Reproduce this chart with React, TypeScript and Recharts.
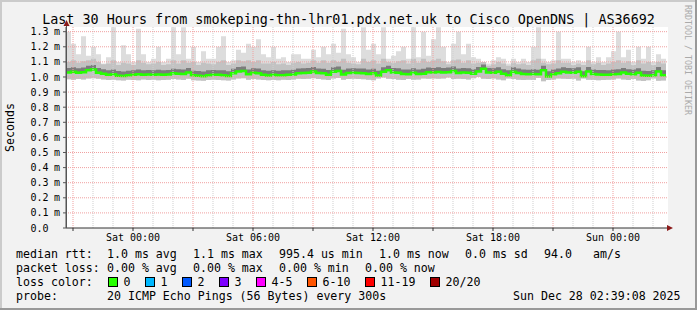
import { ComposedChart, Area, Line, XAxis, YAxis, ReferenceLine } from 'recharts';

// time in hours relative to Sat 00:00, one column every 15 minutes
const START_HOUR = -3.35;
const STEP_HOURS = 0.25;
const END_HOUR = 26.75;

// round-trip times in microseconds, one value per column
const MEDIAN = [
  1030, 1035, 1028, 1032, 1045, 1050, 1028, 1022, 1015, 1018, 1008, 1006, 1012, 1015, 1018, 1014, 1016, 1015, 1017, 1014,
  1016, 1024, 1022, 1020, 1030, 1012, 1008, 1005, 1012, 1015, 1014, 1012, 1006, 1024, 1036, 1040, 1018, 1028, 1025, 1014,
  1010, 1014, 1012, 1012, 1014, 1016, 1025, 1027, 1028, 1036, 1026, 1024, 1015, 1035, 1040, 1016, 1026, 1028, 1026, 1025,
  1020, 1024, 1010, 1034, 1044, 1030, 1028, 1020, 1018, 1028, 1020, 1022, 1032, 1030, 1033, 1030, 1032, 1040, 1026, 1030,
  1028, 1022, 1036, 1055, 1030, 1028, 1034, 1022, 1012, 1034, 1026, 1020, 1018, 1020, 1018, 1044, 1004, 1018, 1025, 1034,
  1030, 1028, 1034, 1005, 1036, 1020, 1016, 1014, 1015, 1018, 1020, 1030, 1022, 1018, 1028, 1010, 1008, 1012, 1036, 1012,
];
const LO = [
  985, 982, 986, 984, 990, 992, 988, 984, 980, 982, 978, 976, 982, 980, 978, 984, 980, 982, 978, 980,
  982, 986, 984, 980, 988, 978, 976, 975, 980, 982, 980, 978, 976, 984, 990, 992, 982, 986, 984, 980,
  978, 980, 978, 982, 980, 984, 988, 986, 988, 992, 986, 984, 980, 990, 994, 982, 986, 988, 986, 985,
  982, 978, 990, 996, 988, 986, 982, 980, 986, 982, 984, 990, 988, 990, 988, 990, 996, 986, 988, 986,
  984, 992, 1000, 988, 986, 990, 984, 978, 990, 986, 982, 980, 982, 980, 994, 972, 980, 984, 990, 988,
  986, 988, 976, 990, 982, 980, 978, 980, 982, 984, 990, 984, 980, 986, 976, 974, 978, 990, 975, 976,
];
const DARK = [
  1060, 1065, 1058, 1062, 1075, 1080, 1060, 1052, 1045, 1050, 1040, 1036, 1042, 1045, 1050, 1044, 1046, 1045, 1048, 1044,
  1046, 1055, 1052, 1050, 1060, 1042, 1040, 1036, 1044, 1046, 1045, 1044, 1038, 1055, 1066, 1070, 1050, 1058, 1056, 1045,
  1042, 1045, 1042, 1044, 1045, 1048, 1056, 1058, 1060, 1066, 1056, 1055, 1046, 1065, 1070, 1048, 1056, 1058, 1056, 1056,
  1050, 1055, 1042, 1064, 1074, 1060, 1058, 1050, 1050, 1058, 1050, 1054, 1062, 1060, 1064, 1060, 1062, 1070, 1056, 1060,
  1058, 1052, 1066, 1082, 1060, 1058, 1064, 1052, 1044, 1064, 1056, 1050, 1048, 1052, 1048, 1074, 1038, 1050, 1056, 1064,
  1060, 1058, 1064, 1038, 1066, 1050, 1046, 1046, 1045, 1050, 1052, 1060, 1052, 1050, 1058, 1042, 1040, 1044, 1066, 1044,
];
const HI = [
  1100, 1110, 1095, 1105, 1110, 1120, 1100, 1085, 1090, 1110, 1080, 1095, 1090, 1080, 1110, 1095, 1085, 1090, 1100, 1080,
  1085, 1110, 1090, 1110, 1095, 1100, 1080, 1095, 1090, 1085, 1100, 1110, 1080, 1090, 1110, 1105, 1110, 1100, 1110, 1090,
  1090, 1100, 1085, 1090, 1080, 1095, 1100, 1090, 1095, 1110, 1095, 1110, 1095, 1110, 1100, 1120, 1095, 1090, 1085, 1120,
  1100, 1110, 1090, 1120, 1100, 1095, 1105, 1110, 1090, 1120, 1095, 1120, 1100, 1110, 1120, 1105, 1085, 1110, 1115, 1095,
  1110, 1090, 1095, 1100, 1075, 1085, 1100, 1090, 1075, 1095, 1085, 1090, 1080, 1110, 1120, 1095, 1085, 1090, 1110, 1095,
  1095, 1080, 1090, 1080, 1110, 1085, 1095, 1080, 1090, 1100, 1110, 1095, 1105, 1080, 1110, 1090, 1100, 1080, 1100, 1090,
];
const MAX = [
  1300, 1220, 1150, 1270, 1140, 1200, 1150, 1090, 1130, 1330, 1100, 1210, 1150, 1100, 1320, 1150, 1100, 1120, 1200, 1100,
  1120, 1330, 1150, 1330, 1120, 1200, 1100, 1170, 1120, 1120, 1200, 1270, 1100, 1110, 1180, 1160, 1220, 1200, 1250, 1150,
  1130, 1200, 1120, 1130, 1100, 1150, 1150, 1120, 1120, 1180, 1130, 1200, 1150, 1220, 1160, 1320, 1150, 1130, 1100, 1330,
  1180, 1220, 1150, 1330, 1120, 1140, 1170, 1200, 1120, 1330, 1130, 1300, 1140, 1250, 1330, 1200, 1100, 1220, 1300, 1150,
  1220, 1130, 1120, 1100, 1090, 1110, 1130, 1120, 1090, 1120, 1100, 1120, 1100, 1200, 1330, 1120, 1100, 1110, 1300, 1120,
  1120, 1100, 1110, 1100, 1200, 1100, 1130, 1100, 1130, 1170, 1300, 1130, 1180, 1100, 1200, 1120, 1200, 1100, 1150, 1120,
];

const Y_TICKS = [0, 0.1, 0.2, 0.3, 0.4, 0.5, 0.6, 0.7, 0.8, 0.9, 1.0, 1.1, 1.2, 1.3];
const X_TICKS = [-3, 0, 3, 6, 9, 12, 15, 18, 21, 24];
const LABEL_HOURS = [0, 6, 12, 18, 24];
const LABELS = ['Sat 00:00', 'Sat 06:00', 'Sat 12:00', 'Sat 18:00', 'Sun 00:00'];
const GRID_HOURS = [-3, -2, -1, 0, 1, 2, 3, 4, 5, 6, 7, 8, 9, 10, 11, 12, 13, 14, 15, 16, 17, 18, 19, 20, 21, 22, 23, 24, 25, 26];

const LOSS_LABELS = ['0', '1', '2', '3', '4-5', '6-10', '11-19', '20/20'];
const LOSS_COLORS = ['#26ff00', '#00b8ff', '#0059ff', '#7e00ff', '#ff00ff', '#ff5500', '#ff0000', '#a10000'];

const TITLE = 'Last 30 Hours from smokeping-thn-lhr01.pdx.net.uk to Cisco OpenDNS | AS36692';
const MONO = '"DejaVu Sans Mono", monospace';

const rows = MEDIAN.map((m, i) => ({
  t: START_HOUR + i * STEP_HOURS,
  smoke: [LO[i] / 1000, MAX[i] / 1000],
  mid: [LO[i] / 1000, HI[i] / 1000],
  dark: [m / 1000, DARK[i] / 1000],
  median: m / 1000,
}));
// close the last step
rows.push({ ...rows[rows.length - 1], t: START_HOUR + MEDIAN.length * STEP_HOURS });

function YTick({ y, payload }: any) {
  const v = payload.value as number;
  return (
    <g>
      <text x={48.5} y={y} dy={3.6} textAnchor='end' fontFamily={MONO} fontSize={10} fill='#000'>
        {v.toFixed(1)}
      </text>
      {v !== 0 && (
        <text x={54} y={y} dy={3.6} fontFamily={MONO} fontSize={10} fill='#000'>
          m
        </text>
      )}
    </g>
  );
}

function XTick({ x, payload }: any) {
  const idx = LABEL_HOURS.indexOf(payload.value);
  if (idx < 0) return null;
  return (
    <text x={x} y={241} textAnchor='middle' fontFamily={MONO} fontSize={10} fill='#000'>
      {LABELS[idx]}
    </text>
  );
}

function Legend() {
  const t = (x: number, y: number, s: string) => (
    <text x={x} y={y} fontFamily={MONO} fontSize={11.6} fill='#000' style={{ whiteSpace: 'pre' }}>
      {s}
    </text>
  );
  let bx = 108.5;
  const boxes = LOSS_LABELS.map((lab, i) => {
    const x = bx;
    bx += 15 + lab.length * 7 + 15;
    return (
      <g key={lab}>
        <rect x={x} y={277.5} width={9} height={9} fill={LOSS_COLORS[i]} stroke='#000' strokeWidth={1} />
        {t(x + 15, 286, lab)}
      </g>
    );
  });
  return (
    <g>
      {t(16, 258, 'median rtt:')}
      {t(107, 258, '1.0 ms avg')}
      {t(193, 258, '1.1 ms max')}
      {t(279, 258, '995.4 us min')}
      {t(379, 258, '1.0 ms now')}
      {t(465, 258, '0.0 ms sd')}
      {t(544, 258, '94.0')}
      {t(593, 258, 'am/s')}
      {t(16, 272, 'packet loss:')}
      {t(107, 272, '0.00 % avg')}
      {t(193, 272, '0.00 % max')}
      {t(279, 272, '0.00 % min')}
      {t(365, 272, '0.00 % now')}
      {t(16, 286, 'loss color:')}
      {boxes}
      {t(16, 300, 'probe:')}
      {t(107, 300, '20 ICMP Echo Pings (56 Bytes) every 300s')}
      {t(513, 300, 'Sun Dec 28 02:39:08 2025')}
    </g>
  );
}

export default function App() {
  return (
    <div style={{ position: 'fixed', left: 0, top: 0, width: 697, height: 310, background: '#f2f2f2' }}>
      {/* canvas */}
      <div style={{ position: 'absolute', left: 66, top: 27, width: 602, height: 201, background: '#fff' }} />
      <div style={{ position: 'absolute', left: 0, top: 0 }}>
        <ComposedChart width={697} height={310} data={rows} margin={{ top: 27, right: 29, bottom: 52, left: 0 }}>
          <XAxis
            dataKey='t'
            type='number'
            domain={[START_HOUR, END_HOUR]}
            ticks={X_TICKS}
            interval={0}
            tick={<XTick />}
            tickSize={3}
            height={30}
            axisLine={{ stroke: '#333' }}
            tickLine={{ stroke: '#333' }}
            allowDataOverflow
          />
          <YAxis
            type='number'
            domain={[0, 1.331]}
            ticks={Y_TICKS}
            interval={0}
            tick={<YTick />}
            tickSize={3}
            width={66}
            axisLine={{ stroke: '#555' }}
            tickLine={{ stroke: '#555' }}
            allowDataOverflow
          />
          <Area
            type='stepAfter'
            dataKey='smoke'
            stroke='none'
            fill='#dddddd'
            fillOpacity={1}
            isAnimationActive={false}
          />
          <Area
            type='stepAfter'
            dataKey='mid'
            stroke='none'
            fill='#c2c2c2'
            fillOpacity={1}
            isAnimationActive={false}
          />
          <Area
            type='stepAfter'
            dataKey='dark'
            stroke='none'
            fill='#7c7c7c'
            fillOpacity={1}
            isAnimationActive={false}
          />
          <Line
            type='stepAfter'
            dataKey='median'
            stroke='#26ff00'
            strokeWidth={2.5}
            dot={false}
            isAnimationActive={false}
          />
          {GRID_HOURS.map((h) => (
            <ReferenceLine
              key={'v' + h}
              x={h}
              stroke={h % 3 === 0 ? '#f0a0a0' : '#cfcfcf'}
              strokeDasharray='1 1'
            />
          ))}
          {Y_TICKS.slice(1).map((v) => (
            <ReferenceLine key={'h' + v} y={v} stroke='#f0a0a0' strokeDasharray='1 1' />
          ))}
        </ComposedChart>
      </div>
      <svg width={697} height={310} style={{ position: 'absolute', left: 0, top: 0, pointerEvents: 'none' }}>
        {/* frame shading */}
        <rect x={0} y={0} width={697} height={2} fill='#cbcbcb' />
        <rect x={0} y={0} width={2} height={310} fill='#cbcbcb' />
        <rect x={0} y={308} width={697} height={2} fill='#999' />
        <rect x={695} y={0} width={2} height={310} fill='#999' />
        <text x={348.5} y={24} textAnchor='middle' fontFamily={MONO} fontSize={13.4} fill='#000'>
          {TITLE}
        </text>
        <text
          transform='translate(14,127.5) rotate(-90)'
          textAnchor='middle'
          fontFamily={MONO}
          fontSize={11.6}
          fill='#000'
        >
          Seconds
        </text>
        <text transform='translate(685,5) rotate(90)' fontFamily={MONO} fontSize={8.3} fill='#aaa'>
          RRDTOOL / TOBI OETIKER
        </text>
        {/* axis arrows */}
        <line x1={66.5} y1={22} x2={66.5} y2={228} stroke='#555' />
        <polygon points='63.5,26 69.5,26 66.5,20' fill='#8b1a1a' />
        <polygon points='667,225 667,231 673,228' fill='#8b1a1a' />
        <Legend />
      </svg>
    </div>
  );
}
